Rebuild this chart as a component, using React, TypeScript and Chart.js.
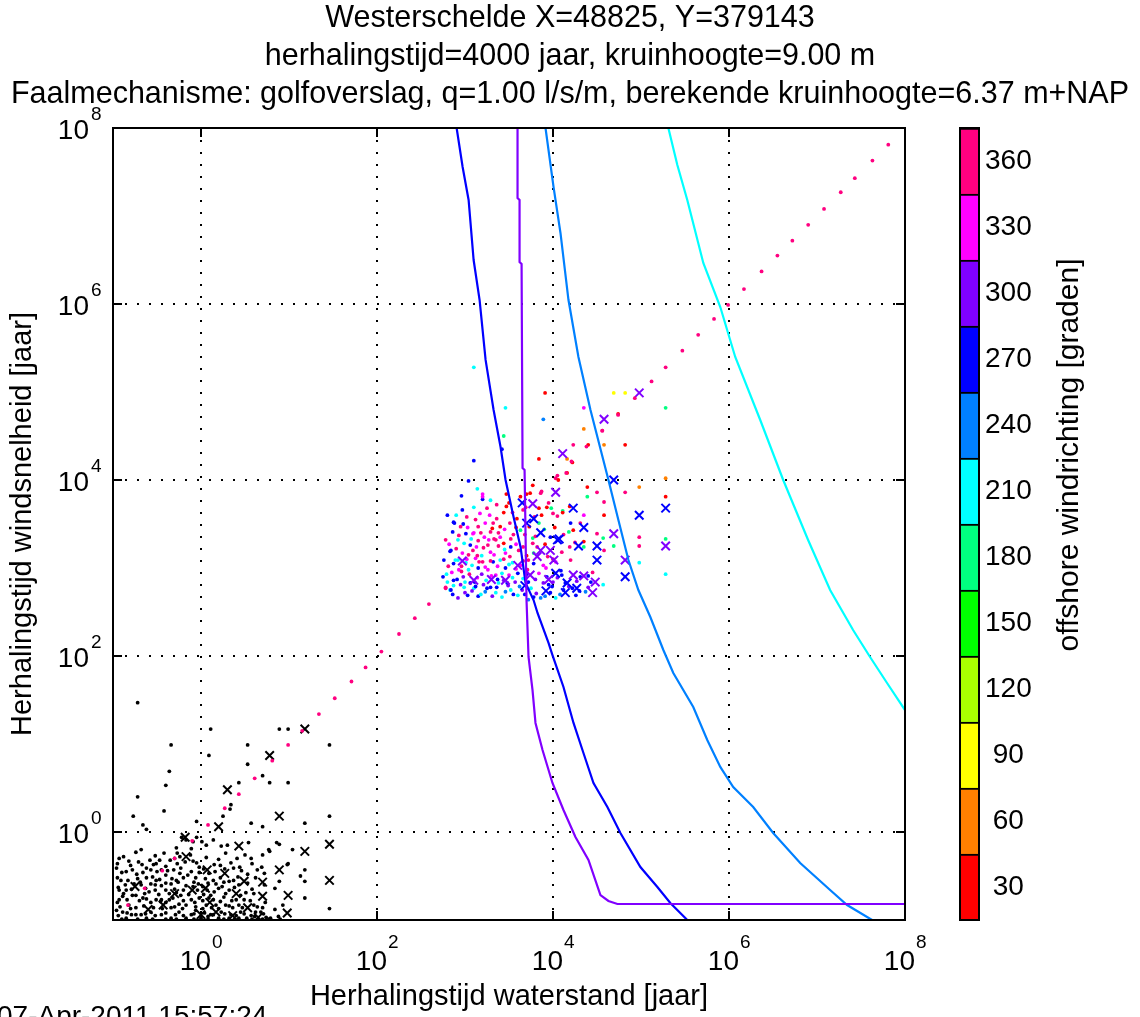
import React, { useEffect, useRef } from 'react';
import { Chart, registerables } from 'chart.js';

Chart.register(...registerables);

const FONT = '"Liberation Sans", Arial, Helvetica, sans-serif';

const titleLines = [
  'Westerschelde X=48825, Y=379143',
  'herhalingstijd=4000 jaar, kruinhoogte=9.00 m',
  'Faalmechanisme: golfoverslag, q=1.00 l/s/m, berekende kruinhoogte=6.37 m+NAP',
];
const xAxisTitle = 'Herhalingstijd waterstand [jaar]';
const yAxisTitle = 'Herhalingstijd windsnelheid [jaar]';
const colorbarTitle = 'offshore windrichting [graden]';
const dateStamp = '07-Apr-2011 15:57:24';

// decade exponents shown as tick labels (10^e)
const decadeExponents = [0, 2, 4, 6, 8];

// colorbar: 12 bins of 30 degrees
const colorbarLabels = [30, 60, 90, 120, 150, 180, 210, 240, 270, 300, 330, 360];
const directionColors = [
  '#FF0000', '#FF8000', '#FFFF00', '#AAFF00', '#00FF00', '#00FF80',
  '#00FFFF', '#0080FF', '#0000FF', '#8000FF', '#FF00FF', '#FF0080',
];

// Curves: [log10 T waterstand, log10 T windsnelheid]
const line300 = [
  [3.597, 8.0], [3.597, 7.205], [3.62, 7.182], [3.62, 6.477], [3.643, 6.455], [3.654, 4.136],
  [3.677, 4.114], [3.699, 2.636], [3.722, 1.989], [3.767, 1.614], [3.801, 1.239], [3.881, 0.932],
  [3.994, 0.557], [4.119, 0.25], [4.255, -0.057], [4.403, -0.318], [4.539, -0.716], [4.63, -0.784],
  [4.732, -0.818], [8.0, -0.818],
];
const line270 = [
  [2.905, 8.0], [2.973, 7.557], [3.041, 7.182], [3.098, 6.5], [3.166, 6.045], [3.234, 5.364],
  [3.325, 4.795], [3.404, 4.375], [3.461, 4.0], [3.552, 3.58], [3.631, 3.239], [3.688, 2.83],
  [3.779, 2.636], [3.824, 2.489], [3.949, 2.148], [3.994, 2.011], [4.119, 1.648], [4.233, 1.239],
  [4.346, 0.898], [4.46, 0.557], [4.618, 0.284], [4.766, -0.011], [4.993, -0.398], [5.186, -0.625],
  [5.333, -0.807], [5.526, -1.0],
];
const line240 = [
  [3.915, 8.0], [4.006, 7.33], [4.085, 6.807], [4.176, 6.045], [4.289, 5.398], [4.426, 4.795],
  [4.63, 4.0], [4.743, 3.545], [4.857, 3.091], [4.97, 2.75], [5.106, 2.443], [5.254, 2.068],
  [5.367, 1.807], [5.594, 1.42], [5.753, 1.045], [5.901, 0.739], [6.048, 0.511], [6.275, 0.284],
  [6.502, -0.011], [6.809, -0.352], [7.149, -0.659], [7.342, -0.83], [7.626, -1.0],
];
const line210 = [
  [5.311, 8.0], [5.413, 7.58], [5.526, 7.182], [5.708, 6.466], [5.901, 5.966], [6.071, 5.398],
  [6.355, 4.682], [6.616, 4.0], [6.899, 3.318], [7.149, 2.75], [7.41, 2.295], [7.603, 1.989],
  [7.796, 1.693], [8.0, 1.386],
];

// dotted diagonal (log10 T, same on both axes)
const diagonalT = [
  -0.83, -0.64, -0.44, -0.3, -0.1, 0.08, 0.27, 0.43, 0.61, 0.81, 0.99, 1.15, 1.34, 1.52, 1.71, 1.87,
  2.05, 2.25, 2.43, 2.59, 2.78, 2.96, 3.14, 3.33, 3.51, 3.69, 3.87, 4.05, 4.21, 4.38, 4.56, 4.74,
  4.93, 5.12, 5.28, 5.47, 5.65, 5.83, 5.99, 6.17, 6.37, 6.55, 6.72, 6.9, 7.08, 7.27, 7.43, 7.63, 7.81,
];

// black dots [log10 x, log10 y]
const blackDots = [
  [-0.72, 1.47], [-0.34, 0.99], [-0.36, 0.69], [-0.4, 0.53], [-0.72, 0.4], [-0.42, 0.24], [-0.77, 0.18],
  [-0.66, 0.08], [-0.62, 0.03], [0.11, 1.17], [0.09, 0.87], [0.53, 0.99], [0.53, 0.77], [0.43, 0.56],
  [0.7, 0.64], [0.78, 0.56], [0.33, 0.26], [0.25, 0.18], [0.57, 0.1], [0.7, 0.06], [0.89, 1.17],
  [0.99, 1.17], [0.99, 0.56], [1.18, 0.1], [1.46, 0.99], [1.46, 0.18], [0.34, 0.31], [-0.05, 0.12],
  [-0.22, -0.06], [-0.17, -0.09], [-0.05, -0.06], [0.14, -0.09], [0.01, -0.11], [0.06, -0.15],
  [-0.09, -0.11], [-0.11, -0.19], [-0.28, -0.18], [-0.27, -0.24], [-0.24, -0.28], [-0.42, -0.24],
  [-0.35, -0.32], [-0.47, -0.32], [-0.58, -0.32], [-0.68, -0.2], [-0.74, -0.23], [-0.93, -0.3],
  [-0.82, -0.33], [-0.67, -0.37], [-0.57, -0.43], [-0.78, -0.43], [-0.73, -0.48], [-0.45, -0.43],
  [-0.31, -0.43], [-0.18, -0.34], [-0.09, -0.33], [-0.02, -0.4], [0.03, -0.42], [0.09, -0.47],
  [0.15, -0.37], [0.23, -0.16], [0.3, -0.15], [0.54, -0.12], [0.28, -0.24], [0.41, -0.3], [0.44, -0.4],
  [0.37, -0.41], [0.64, -0.43], [0.69, -0.4], [0.77, -0.2], [0.86, -0.12], [0.98, -0.37], [0.89, -0.56],
  [-0.09, -0.62], [0.02, -0.62], [-0.02, -0.75], [0.07, -0.66], [0.15, -0.68], [0.24, -0.62],
  [0.32, -0.56], [0.32, -0.66], [0.26, -0.74], [0.4, -0.77], [0.51, -0.69], [0.64, -0.85],
  [-0.91, -0.55], [-0.85, -0.66], [-0.93, -0.77], [-0.82, -0.83], [-0.74, -0.72], [-0.68, -0.6],
  [-0.59, -0.68], [-0.51, -0.55], [-0.45, -0.77], [-0.4, -0.66], [-0.34, -0.86], [-0.28, -0.55],
  [-0.23, -0.72], [-0.17, -0.83], [-0.11, -0.94], [-0.57, -0.91], [-0.68, -0.94], [-0.79, -0.94],
  [-0.89, -0.91], [-0.45, -0.94], [-0.34, -0.98], [-0.25, -0.91], [-0.06, -0.89], [0.06, -0.83],
  [0.11, -0.94], [0.17, -0.83], [0.23, -0.91], [0.34, -0.94], [0.45, -0.91], [0.57, -0.95], [0.68, -0.91],
  [0.74, -0.97], [0.79, -0.98], [0.0, -0.98], [-0.15, -0.49], [-0.06, -0.52], [0.14, -0.55],
  [-0.4, -0.49], [-0.62, -0.52], [-0.83, -0.55], [-0.93, -0.66], [-0.51, -0.77], [-0.32, -0.75],
  [0.43, -0.83], [0.52, -0.98], [0.36, -0.86], [0.2, -0.98], [1.18, -0.43], [1.18, -0.56], [1.18, -0.75],
  [1.46, -0.87], [0.53, -0.48], [0.37, -0.55], [0.53, -0.58], [0.49, -0.77], [0.6, -0.83], [0.77, -0.99],
  [0.65, -0.99], [0.99, -0.36], [0.89, -0.14], [0.78, -0.22], [-0.96, -0.41], [-0.85, -0.45],
  [-0.62, -0.41], [-0.51, -0.36], [-0.4, -0.39], [-0.23, -0.41], [-0.11, -0.45], [-0.76, -0.59],
  [-0.57, -0.59], [-0.45, -0.61], [-0.34, -0.59], [-0.17, -0.61], [-0.03, -0.59], [0.17, -0.59],
  [-0.89, -0.73], [-0.66, -0.75], [-0.57, -0.8], [-0.4, -0.8], [-0.25, -0.82], [-0.11, -0.77],
  [0.09, -0.75], [0.28, -0.83], [-0.74, -0.86], [-0.96, -0.89], [-0.62, -0.98], [-0.85, -0.98],
  [-0.17, -0.98], [0.32, -0.98], [0.43, -0.98], [0.62, -0.91], [0.7, -0.26], [0.57, -0.3], [1.04, -0.2],
  [1.13, -0.5], [0.93, -0.83],
  [-0.88, -0.28], [-0.52, -0.27], [-0.3, -0.3], [-0.12, -0.26], [0.06, -0.29], [0.2, -0.31], [0.5, -0.26],
  [-0.95, -0.36], [-0.8, -0.38], [-0.71, -0.34], [-0.54, -0.37], [-0.27, -0.36], [-0.05, -0.35],
  [0.22, -0.38], [0.34, -0.35], [0.58, -0.36],
  [-0.9, -0.46], [-0.66, -0.46], [-0.5, -0.45], [-0.38, -0.44], [-0.24, -0.47], [-0.02, -0.46],
  [0.16, -0.45], [0.27, -0.42], [0.46, -0.44], [0.72, -0.47],
  [-0.95, -0.52], [-0.72, -0.53], [-0.55, -0.51], [-0.47, -0.54], [-0.33, -0.53], [-0.2, -0.52],
  [0.05, -0.53], [0.22, -0.52], [0.42, -0.51], [0.62, -0.52],
  [-0.86, -0.6], [-0.69, -0.57], [-0.52, -0.6], [-0.4, -0.58], [-0.26, -0.57], [-0.08, -0.57],
  [0.08, -0.58], [0.26, -0.57], [0.43, -0.6], [0.72, -0.6],
  [-0.94, -0.63], [-0.79, -0.65], [-0.63, -0.64], [-0.52, -0.66], [-0.3, -0.65], [-0.2, -0.66],
  [-0.04, -0.66], [0.2, -0.64], [0.38, -0.63], [0.58, -0.65], [0.84, -0.64],
  [-0.88, -0.7], [-0.78, -0.72], [-0.64, -0.7], [-0.48, -0.71], [-0.36, -0.7], [-0.28, -0.69],
  [-0.14, -0.71], [0.03, -0.71], [0.11, -0.72], [0.28, -0.7], [0.45, -0.72], [0.6, -0.7],
  [-0.95, -0.8], [-0.84, -0.77], [-0.7, -0.78], [-0.62, -0.76], [-0.46, -0.79], [-0.36, -0.77],
  [-0.2, -0.78], [-0.07, -0.8], [0.02, -0.78], [0.14, -0.77], [0.22, -0.79], [0.35, -0.78], [0.56, -0.78],
  [0.73, -0.8],
  [-0.92, -0.85], [-0.8, -0.87], [-0.65, -0.84], [-0.54, -0.86], [-0.44, -0.87], [-0.3, -0.85],
  [-0.21, -0.87], [-0.06, -0.85], [0.02, -0.87], [0.12, -0.86], [0.2, -0.87], [0.32, -0.84], [0.47, -0.86],
  [0.7, -0.86], [0.84, -0.88],
  [-0.94, -0.95], [-0.84, -0.92], [-0.74, -0.94], [-0.63, -0.93], [-0.52, -0.95], [-0.4, -0.92],
  [-0.29, -0.94], [-0.2, -0.95], [-0.08, -0.93], [0.04, -0.92], [0.08, -0.96], [0.14, -0.94], [0.27, -0.93],
  [0.4, -0.95], [0.49, -0.93], [0.61, -0.96], [0.71, -0.93], [0.88, -0.96],
  [-0.9, -0.99], [-0.72, -0.99], [-0.55, -0.99], [-0.4, -0.99], [-0.28, -0.99], [-0.08, -0.99],
  [0.08, -0.99], [0.26, -0.99], [0.38, -0.99], [0.58, -0.99], [0.7, -0.99], [0.9, -0.99],
];

// black crosses [log10 x, log10 y]
const blackCrosses = [
  [0.78, 0.87], [0.3, 0.48], [1.18, 1.17], [0.89, 0.18], [0.2, 0.06], [0.43, -0.16], [1.18, -0.22],
  [1.46, -0.14], [0.89, -0.43], [1.46, -0.55], [0.7, -0.57], [0.49, -0.56], [0.99, -0.72], [0.7, -0.73],
  [0.98, -0.92], [0.53, -0.86], [0.65, -0.97], [0.27, -0.47], [0.05, -0.64], [-0.1, -0.66],
  [-0.17, -0.28], [0.0, -0.94], [0.17, -0.91], [0.36, -0.95], [-0.43, -0.83], [-0.18, -0.06], [0.07, -0.43],
  [-0.6, -0.88], [-0.3, -0.7], [-0.75, -0.62], [0.1, -0.8], [0.4, -0.7],
];

// coloured dots [log10 x, log10 y, offshore wind direction (deg)]
const colouredDots = [
  [3.1, 5.28, 195], [3.46, 4.82, 195], [3.89, 4.69, 225], [3.44, 4.5, 165], [3.42, 4.35, 255],
  [3.1, 4.22, 255], [3.91, 4.99, 15], [3.84, 4.24, 15], [4.35, 4.82, 315], [4.35, 4.58, 45],
  [4.56, 4.56, 345], [4.23, 4.4, 345], [4.4, 4.4, 15], [4.58, 4.4, 45], [4.82, 4.4, 15], [4.16, 4.08, 15],
  [4.16, 4.24, 45], [4.22, 4.2, 15], [4.69, 4.99, 75], [4.82, 4.99, 75], [4.74, 4.75, 15], [5.28, 4.82, 165],
  [5.28, 4.02, 45], [4.98, 3.92, 45], [5.28, 3.81, 15], [4.82, 3.86, 345], [4.5, 3.86, 345], [4.39, 3.92, 15],
  [4.39, 3.81, 165], [4.58, 3.75, 345], [4.58, 3.6, 15], [4.35, 3.6, 315], [4.31, 3.51, 345],
  [5.28, 3.33, 165], [4.98, 3.35, 345], [4.98, 3.25, 345], [4.98, 3.06, 195], [5.28, 2.93, 195],
  [4.69, 3.25, 165], [4.57, 3.34, 165], [4.58, 3.2, 345], [4.5, 3.39, 345], [4.45, 2.95, 345],
  [4.57, 2.81, 195], [4.35, 3.3, 15], [4.35, 3.24, 165], [4.2, 3.09, 345], [4.19, 3.24, 345],
  [4.18, 3.41, 165], [4.23, 3.43, 15], [4.2, 3.51, 255], [4.05, 3.59, 345], [4.11, 3.65, 165],
  [4.19, 3.7, 15], [4.11, 3.63, 15], [3.98, 3.68, 165], [3.95, 3.74, 345], [3.87, 3.6, 15], [3.93, 3.69, 15],
  [3.84, 3.51, 165], [3.86, 3.85, 345], [3.77, 3.94, 15], [4.03, 4.02, 345], [4.06, 4.0, 15], [4.15, 4.08, 345],
  [3.14, 3.9, 195], [3.2, 3.84, 315], [3.2, 3.78, 255], [2.96, 3.82, 255], [3.04, 3.99, 255], [3.47, 3.84, 15],
  [3.47, 3.7, 15], [3.54, 3.63, 345], [3.7, 3.84, 15], [2.8, 3.6, 255], [2.88, 3.51, 255], [2.98, 3.5, 255],
  [3.01, 3.39, 255], [3.09, 3.39, 315], [2.83, 3.19, 255], [2.92, 3.09, 195], [2.75, 2.9, 255],
  [2.78, 2.77, 345], [2.8, 2.84, 195], [2.87, 2.8, 195], [2.83, 2.75, 195], [3.1, 3.69, 195],
  [3.2, 3.81, 315], [2.87, 3.52, 255], [3.23, 3.51, 315], [3.32, 3.51, 345], [3.4, 3.47, 15],
  [3.1, 3.4, 315], [3.18, 3.4, 345], [3.29, 3.41, 345], [3.4, 3.35, 315], [3.35, 3.32, 345], [3.44, 3.28, 15],
  [3.52, 3.24, 255], [2.92, 3.32, 195], [2.84, 3.2, 255], [2.97, 3.17, 315], [3.09, 3.2, 345],
  [3.21, 3.23, 345], [3.29, 3.18, 315], [2.89, 3.09, 195], [3.01, 3.06, 195], [3.12, 3.11, 315],
  [3.2, 3.07, 345], [3.26, 2.98, 315], [3.32, 3.07, 255], [3.4, 3.09, 195], [3.46, 3.0, 255], [3.54, 3.06, 195],
  [2.98, 2.9, 285], [3.06, 2.83, 255], [3.14, 2.89, 315], [3.1, 2.77, 195], [3.21, 2.81, 285],
  [3.29, 2.78, 255], [3.38, 2.83, 195], [3.44, 2.86, 285], [3.54, 2.89, 195], [3.6, 2.94, 255],
  [2.87, 2.86, 255], [2.95, 2.81, 285], [2.84, 2.75, 255], [3.65, 2.75, 285], [3.72, 2.84, 255],
  [3.6, 2.69, 195], [3.52, 2.75, 195], [3.78, 2.67, 255], [3.97, 2.72, 255], [3.89, 2.83, 285],
  [4.05, 2.89, 285], [4.14, 2.83, 255], [4.12, 2.75, 255], [4.31, 2.9, 255], [3.63, 3.81, 15],
  [3.74, 3.85, 15], [3.5, 3.74, 15], [3.63, 3.43, 165], [3.55, 3.38, 345], [3.77, 3.28, 345],
  [3.77, 3.34, 165], [3.78, 3.17, 165], [3.72, 3.09, 345], [3.89, 3.03, 315], [3.97, 3.35, 255],
  [3.84, 2.94, 315], [2.93, 2.98, 315], [3.04, 2.98, 195], [3.15, 3.0, 255], [3.35, 2.92, 315],
  [3.5, 2.92, 315], [3.23, 2.73, 225], [3.35, 2.72, 195], [3.46, 2.73, 225], [3.72, 2.64, 225],
  [3.86, 2.66, 225], [4.03, 2.66, 195], [3.95, 2.81, 255], [3.06, 3.26, 255], [3.15, 3.31, 345],
  [3.27, 3.32, 315], [3.46, 3.17, 315], [3.61, 3.2, 345], [3.63, 3.03, 315], [3.71, 2.98, 345],
  [3.0, 2.72, 285], [3.15, 2.68, 255], [2.76, 3.09, 255], [2.95, 3.47, 345], [3.12, 3.55, 345],
  [3.28, 3.6, 315], [3.36, 3.72, 345], [2.97, 3.66, 255], [3.29, 3.77, 195], [2.78, 3.32, 345],
  [4.03, 3.07, 315], [4.09, 2.97, 255], [4.22, 2.77, 255], [4.37, 2.73, 225], [4.43, 2.84, 255],
  [4.26, 2.69, 255],
  [2.86, 2.7, 255], [2.92, 2.66, 285], [2.99, 2.78, 195], [3.03, 2.69, 255], [3.08, 2.74, 285],
  [3.12, 2.79, 255], [3.18, 2.7, 195], [3.25, 2.77, 255], [3.31, 2.68, 285], [3.36, 2.78, 255],
  [3.42, 2.67, 195], [3.49, 2.8, 285], [3.55, 2.7, 255], [3.62, 2.79, 225], [3.68, 2.7, 255],
  [3.75, 2.77, 195], [3.81, 2.71, 285], [3.91, 2.68, 225], [3.99, 2.79, 255], [4.08, 2.7, 225],
  [4.18, 2.79, 285], [4.3, 2.74, 255], [4.4, 2.78, 285],
  [2.79, 2.93, 195], [2.85, 2.95, 315], [2.91, 2.87, 255], [3.0, 2.84, 195], [3.05, 2.93, 345],
  [3.11, 2.84, 255], [3.19, 2.93, 285], [3.24, 2.86, 195], [3.3, 2.91, 315], [3.37, 2.87, 255],
  [3.42, 2.94, 195], [3.48, 2.83, 255], [3.57, 2.84, 285], [3.66, 2.88, 195], [3.7, 2.93, 255],
  [3.8, 2.87, 285], [3.93, 2.9, 255], [4.0, 2.84, 285], [4.1, 2.92, 255], [4.27, 2.85, 285], [4.4, 2.91, 255],
  [2.81, 3.02, 345], [2.87, 3.05, 255], [2.96, 3.02, 345], [3.02, 3.1, 315], [3.08, 3.03, 195],
  [3.16, 3.07, 345], [3.23, 3.01, 315], [3.29, 3.08, 345], [3.37, 3.02, 315], [3.44, 3.1, 345],
  [3.5, 3.04, 195], [3.58, 2.99, 315], [3.66, 3.08, 345], [3.78, 3.05, 255], [3.92, 3.0, 315], [4.0, 3.1, 345],
  [2.82, 3.27, 315], [2.9, 3.22, 345], [2.99, 3.28, 195], [3.04, 3.15, 345], [3.13, 3.24, 315],
  [3.19, 3.14, 195], [3.26, 3.26, 345], [3.33, 3.15, 315], [3.38, 3.25, 345], [3.45, 3.21, 195],
  [3.51, 3.13, 345], [3.58, 3.27, 315], [3.66, 3.24, 345], [3.7, 3.14, 15], [3.82, 3.24, 345],
  [3.91, 3.27, 15], [3.94, 3.13, 345], [4.1, 3.18, 345], [4.25, 3.29, 345],
  [2.86, 3.41, 255], [2.93, 3.37, 345], [3.03, 3.46, 315], [3.07, 3.33, 195], [3.15, 3.47, 345],
  [3.22, 3.35, 315], [3.31, 3.45, 15], [3.38, 3.4, 345], [3.45, 3.44, 315], [3.52, 3.33, 345],
  [3.58, 3.46, 15], [3.68, 3.38, 345], [3.73, 3.47, 15], [3.8, 3.36, 345], [3.9, 3.44, 165],
  [4.02, 3.46, 15], [4.12, 3.38, 345],
  [2.9, 3.6, 195], [3.02, 3.58, 345], [3.17, 3.62, 315], [3.25, 3.68, 345], [3.36, 3.56, 345],
  [3.44, 3.63, 15], [3.59, 3.56, 15], [3.66, 3.66, 345], [3.79, 3.58, 345], [3.84, 3.68, 15], [4.0, 3.62, 345],
];

// coloured crosses [log10 x, log10 y, direction (deg)]
const colouredCrosses = [
  [4.98, 4.99, 285], [4.58, 4.69, 285], [4.11, 4.3, 285], [4.69, 4.0, 255], [5.28, 3.68, 255],
  [4.98, 3.6, 255], [4.03, 3.86, 285], [4.23, 3.68, 255], [4.69, 3.39, 285], [5.28, 3.25, 285],
  [4.5, 3.25, 255], [4.29, 3.25, 255], [4.07, 3.33, 255], [4.5, 3.09, 255], [4.82, 3.09, 285],
  [4.82, 2.9, 255], [4.48, 2.84, 285], [4.35, 2.91, 285], [4.14, 2.72, 255], [4.16, 2.83, 255],
  [3.86, 3.4, 255], [3.77, 3.73, 285], [3.65, 3.74, 255], [3.7, 3.51, 255], [3.86, 3.2, 285],
  [3.82, 3.13, 285], [4.03, 2.94, 255], [4.01, 3.09, 285], [4.23, 2.92, 285], [4.05, 3.32, 255],
  [3.97, 3.2, 285], [2.97, 3.08, 285], [3.46, 2.86, 285],
  [3.68, 2.8, 255], [3.74, 2.92, 285], [3.92, 2.74, 255], [3.95, 2.87, 285], [4.27, 2.77, 255],
  [4.45, 2.72, 285], [3.6, 3.03, 285], [3.78, 3.56, 255], [4.35, 3.46, 255], [3.3, 2.87, 285], [3.1, 2.86, 285],
];

const colourFor = (deg: number) => {
  const i = Math.min(directionColors.length - 1, Math.max(0, Math.floor(deg / 30)));
  return directionColors[i];
};
const toPoint = (p: number[]) => ({ x: Math.pow(10, p[0]), y: Math.pow(10, p[1]) });

const TICK_LEN = 9;
const TICK_FONT = 28;
const EXP_FONT = 19;
const DOT_R = 1.9;
const CROSS_R = 6;
const CROSS_W = 2;

const mainDecor = {
  id: 'mainDecor',
  afterDraw(chart: any) {
    const { ctx, chartArea: a, scales } = chart;
    const xs = scales.x;
    const ys = scales.y;
    ctx.save();
    ctx.strokeStyle = '#000';
    ctx.lineWidth = 2;
    ctx.strokeRect(a.left, a.top, a.right - a.left, a.bottom - a.top);
    ctx.beginPath();
    for (const e of decadeExponents) {
      if (e === 8) continue;
      const v = Math.pow(10, e);
      const px = xs.getPixelForValue(v);
      const py = ys.getPixelForValue(v);
      ctx.moveTo(px, a.bottom); ctx.lineTo(px, a.bottom - TICK_LEN);
      ctx.moveTo(px, a.top); ctx.lineTo(px, a.top + TICK_LEN);
      ctx.moveTo(a.left, py); ctx.lineTo(a.left + TICK_LEN, py);
      ctx.moveTo(a.right, py); ctx.lineTo(a.right - TICK_LEN, py);
    }
    ctx.stroke();

    ctx.fillStyle = '#000';
    ctx.textBaseline = 'alphabetic';
    for (const e of decadeExponents) {
      const v = Math.pow(10, e);
      const px = xs.getPixelForValue(v);
      const py = ys.getPixelForValue(v);
      ctx.font = `${TICK_FONT}px ${FONT}`;
      ctx.textAlign = 'right';
      ctx.fillText('10', px + 10, a.bottom + 50);
      ctx.font = `${EXP_FONT}px ${FONT}`;
      ctx.textAlign = 'left';
      ctx.fillText(String(e), px + 11, a.bottom + 28);
      ctx.font = `${TICK_FONT}px ${FONT}`;
      ctx.textAlign = 'right';
      ctx.fillText('10', a.left - 24, py + 11);
      ctx.font = `${EXP_FONT}px ${FONT}`;
      ctx.textAlign = 'left';
      ctx.fillText(String(e), a.left - 22, py - 8);
    }
    ctx.font = `${TICK_FONT}px ${FONT}`;
    ctx.textAlign = 'left';
    ctx.fillText(dateStamp, -3, chart.height + 8);
    ctx.restore();
  },
};

const barDecor = {
  id: 'barDecor',
  afterDraw(chart: any) {
    const { ctx, chartArea: a } = chart;
    ctx.save();
    ctx.strokeStyle = '#000';
    ctx.lineWidth = 2;
    ctx.strokeRect(a.left, a.top, a.right - a.left, a.bottom - a.top);
    ctx.fillStyle = '#000';
    ctx.font = `30px ${FONT}`;
    ctx.translate(130, 455);
    ctx.rotate(-Math.PI / 2);
    ctx.textAlign = 'center';
    ctx.textBaseline = 'middle';
    ctx.fillText(colorbarTitle, 0, 0);
    ctx.restore();
  },
};

const logAxis = (title: string, isX: boolean) => ({
  type: 'logarithmic',
  position: isX ? 'bottom' : 'left',
  min: 0.1,
  max: 1e8,
  afterBuildTicks: (s: any) => {
    s.ticks = decadeExponents.map((e) => ({ value: Math.pow(10, e) }));
  },
  afterFit: (s: any) => {
    if (isX) s.height = 97; else s.width = 113;
  },
  ticks: { display: false },
  grid: { display: true, color: '#000', lineWidth: 2, drawTicks: false, borderDash: [2, 10] },
  border: { display: false, dash: [2, 10] },
  title: {
    display: true,
    text: title,
    color: '#000',
    font: { family: FONT, size: 29, lineHeight: 1.2 },
    padding: isX ? { top: 0, bottom: 3 } : { top: 6, bottom: 0 },
  },
});

function mainConfig(): any {
  const lineDs = (pts: number[][], color: string) => ({
    data: pts.map(toPoint),
    showLine: true,
    borderColor: color,
    backgroundColor: color,
    borderWidth: 2.2,
    pointRadius: 0,
    tension: 0,
  });
  return {
    type: 'scatter',
    data: {
      datasets: [
        lineDs(line300, '#8000FF'),
        lineDs(line270, '#0000FF'),
        lineDs(line240, '#0080FF'),
        lineDs(line210, '#00FFFF'),
        {
          data: diagonalT.map((t) => ({ x: Math.pow(10, t), y: Math.pow(10, t) })),
          pointRadius: DOT_R,
          pointBorderWidth: 0,
          pointBackgroundColor: '#FF0080',
        },
        {
          data: colouredCrosses.map(toPoint),
          pointStyle: 'crossRot',
          pointRadius: CROSS_R,
          pointBorderWidth: CROSS_W,
          pointBorderColor: colouredCrosses.map((p) => colourFor(p[2])),
        },
        {
          data: colouredDots.map(toPoint),
          pointRadius: DOT_R,
          pointBorderWidth: 0,
          pointBackgroundColor: colouredDots.map((p) => colourFor(p[2])),
        },
        {
          data: blackCrosses.map(toPoint),
          pointStyle: 'crossRot',
          pointRadius: CROSS_R,
          pointBorderWidth: CROSS_W,
          pointBorderColor: '#000',
        },
        {
          data: blackDots.map(toPoint),
          pointRadius: DOT_R,
          pointBorderWidth: 0,
          pointBackgroundColor: '#000',
        },
      ],
    },
    options: {
      responsive: false,
      animation: false,
      events: [],
      layout: { padding: 0 },
      plugins: {
        legend: { display: false },
        tooltip: { enabled: false },
        title: {
          display: true,
          text: titleLines,
          color: '#000',
          font: { family: FONT, size: 30.5, weight: 'normal', lineHeight: '38px' },
          padding: { top: 0, bottom: 14 },
        },
      },
      scales: {
        x: logAxis(xAxisTitle, true),
        y: logAxis(yAxisTitle, false),
        rightSpace: {
          type: 'linear',
          position: 'right',
          display: true,
          min: 0,
          max: 1,
          grid: { display: false },
          ticks: { display: false },
          border: { display: false },
          afterFit: (s: any) => { s.width = 235; },
        },
      },
    },
    plugins: [mainDecor],
  };
}

function barConfig(): any {
  return {
    type: 'bar',
    data: {
      labels: [''],
      datasets: directionColors.map((c) => ({
        data: [30],
        backgroundColor: c,
        borderColor: '#000',
        borderWidth: { top: 2, right: 0, bottom: 0, left: 0 },
        borderSkipped: false,
        barPercentage: 1,
        categoryPercentage: 1,
      })),
    },
    options: {
      responsive: false,
      animation: false,
      events: [],
      layout: { padding: { left: 20, right: 0, top: 128, bottom: 97 } },
      plugins: { legend: { display: false }, tooltip: { enabled: false } },
      scales: {
        x: { stacked: true, display: false },
        y: {
          stacked: true,
          position: 'right',
          min: 0,
          max: 360,
          afterBuildTicks: (s: any) => {
            s.ticks = colorbarLabels.map((v) => ({ value: v - 15 }));
          },
          afterFit: (s: any) => { s.width = 161; },
          ticks: {
            color: '#000',
            font: { family: FONT, size: 28 },
            crossAlign: 'center',
            padding: -2,
            callback: (v: number) => String(v + 15),
          },
          grid: { display: false },
          border: { display: false },
        },
      },
    },
    plugins: [barDecor],
  };
}

export default function App() {
  const mainRef = useRef<HTMLCanvasElement>(null);
  const barRef = useRef<HTMLCanvasElement>(null);
  useEffect(() => {
    const main = new Chart(mainRef.current as HTMLCanvasElement, mainConfig());
    const bar = new Chart(barRef.current as HTMLCanvasElement, barConfig());
    return () => {
      main.destroy();
      bar.destroy();
    };
  }, []);
  return (
    <div style={{ position: 'absolute', left: 0, top: 0, width: 1140, height: 1017, background: '#fff', overflow: 'hidden' }}>
      <canvas ref={mainRef} width={1140} height={1017} style={{ position: 'absolute', left: 0, top: 0 }} />
      <canvas ref={barRef} width={200} height={1017} style={{ position: 'absolute', left: 940, top: 0 }} />
    </div>
  );
}
